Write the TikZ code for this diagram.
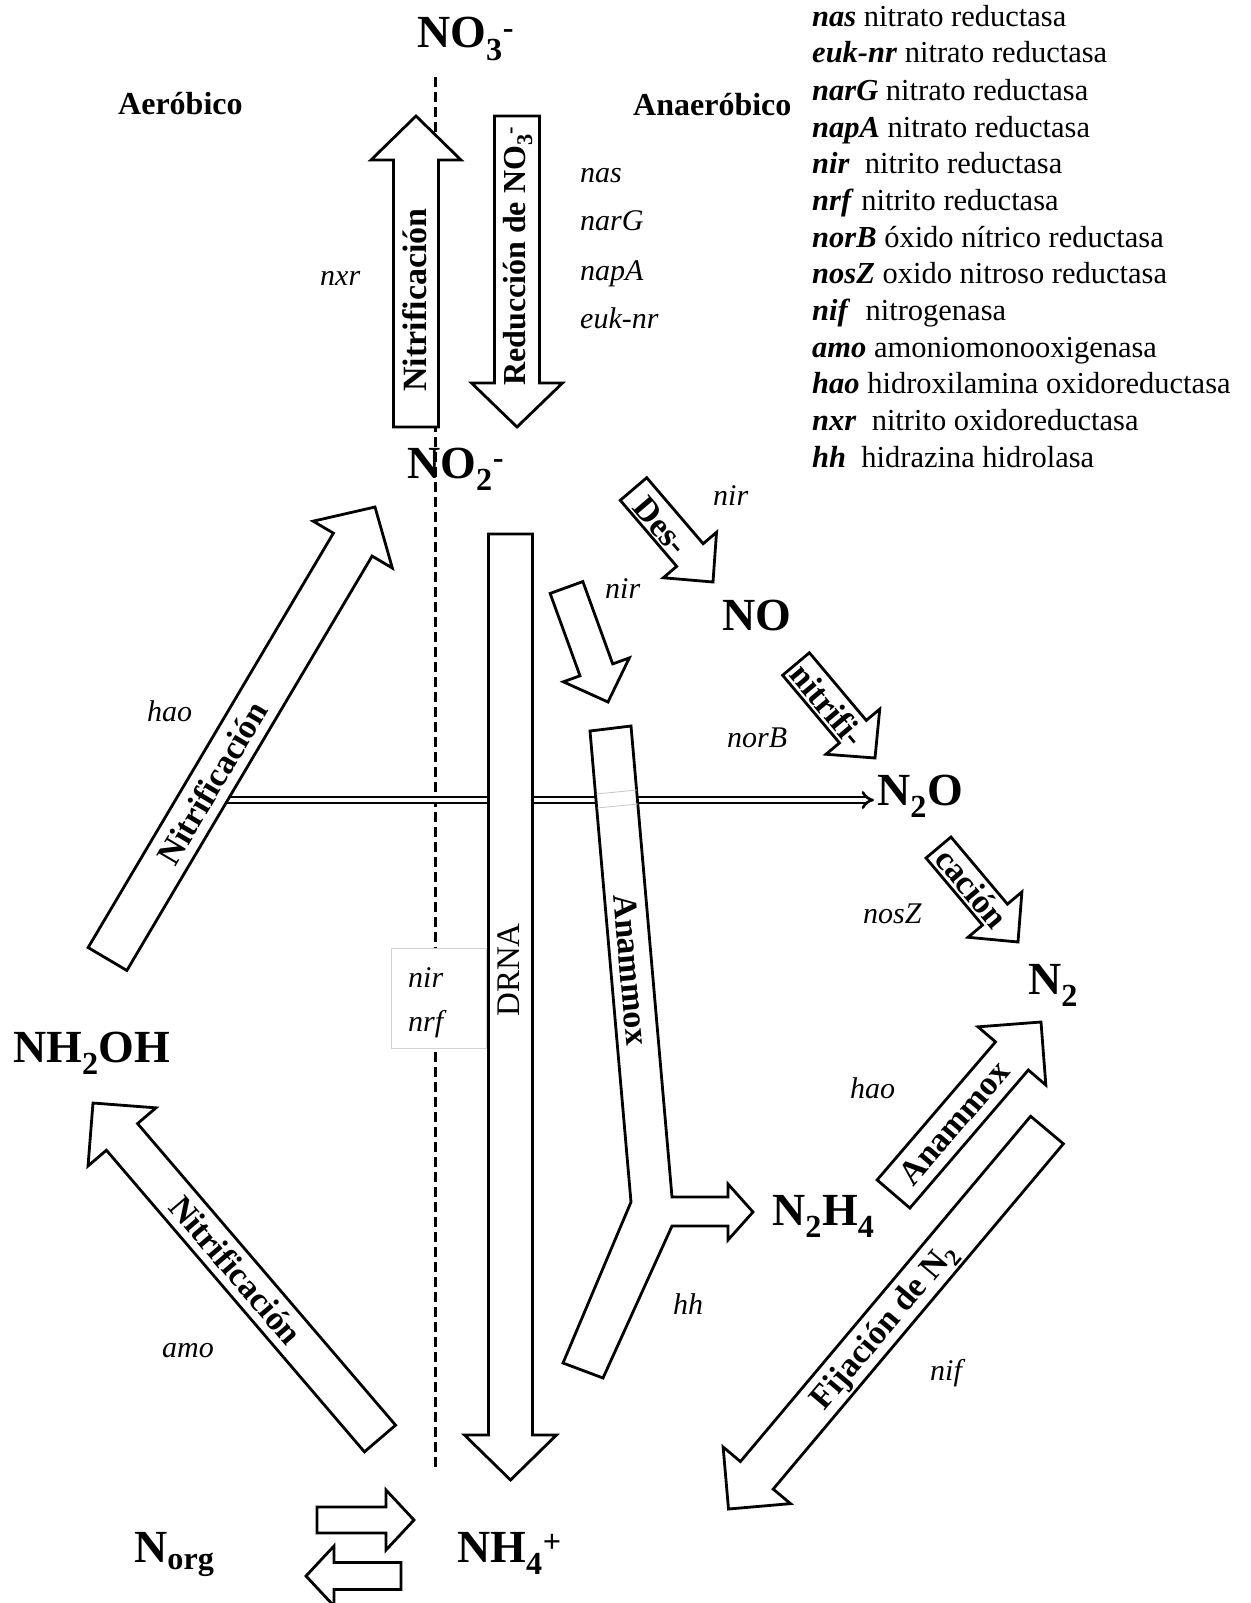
\documentclass[tikz,border=0pt]{standalone}
\usepackage{fontspec}
\setmainfont{Liberation Serif}
\usetikzlibrary{calc,arrows.meta}

\tikzset{
  barrow/.style={draw=black, fill=white, line width=2.8pt, line join=miter},
  chem/.style={font=\bfseries\fontsize{46}{50}\selectfont, inner sep=0pt, anchor=base west},
  atext/.style={font=\bfseries\fontsize{34}{38}\selectfont, inner sep=0pt},
  rtext/.style={font=\fontsize{33}{37}\selectfont, inner sep=0pt},
  gene/.style={font=\itshape\fontsize{30}{34}\selectfont, inner sep=0pt, anchor=base west},
  zone/.style={font=\bfseries\fontsize{32}{36}\selectfont, inner sep=0pt, anchor=base west},
  legend/.style={font=\fontsize{30.5}{36}\selectfont, inner sep=0pt, anchor=base west},
  divider/.style={line width=3pt, dash pattern=on 10pt off 5pt},
  dblarrow/.style={double=white, double distance=3.2pt, line width=2.6pt, -{Implies}},
  genebox/.style={draw=gray!35, fill=white, line width=1pt, inner sep=0pt, anchor=north west},
}

% block arrow: {tail centre}{tip}{half shaft width}{half head width}{head length}
\newcommand\blockarrow[5]{%
  \coordinate (bhC) at ($(#2)!#5pt!(#1)$);
  \draw[barrow] ($(#1)!#3pt!90:(#2)$) -- ($(bhC)!#3pt!90:(#2)$) -- ($(bhC)!#4pt!90:(#2)$) -- (#2)
     -- ($(bhC)!#4pt!-90:(#2)$) -- ($(bhC)!#3pt!-90:(#2)$) -- ($(#1)!#3pt!-90:(#2)$) -- cycle;}

\newcommand\gn[1]{\textbf{\textit{#1}}}

\begin{document}
\begin{tikzpicture}[x=1pt, y=-1pt]
\useasboundingbox (0,0) rectangle (1250,1603);
\fill[white] (0,0) rectangle (1250,1603);

% aerobic / anaerobic divider
\coordinate (dtop) at (435,77);
\coordinate (dbot) at (435,1467);
\draw[divider] (dtop) -- (dbot);

% chemical species
\node[chem] (no3) at (417,48) {NO\textsubscript{3}\textsuperscript{-}};
\node[chem] (no2) at (407,478) {NO\textsubscript{2}\textsuperscript{-}};
\node[chem] (no) at (722,630) {NO};
\node[chem] (n2o) at (877,805) {N\textsubscript{2}O};
\node[chem] (n2) at (1028,994) {N\textsubscript{2}};
\node[chem] (nh2oh) at (13,1062) {NH\textsubscript{2}OH};
\node[chem] (n2h4) at (772,1225) {N\textsubscript{2}H\textsubscript{4}};
\node[chem] (norg) at (134,1562) {N\textsubscript{org}};
\node[chem] (nh4) at (457,1562) {NH\textsubscript{4}\textsuperscript{+}};

% double arrow to N2O
\coordinate (dstart) at (222,800);
\draw[dblarrow] (dstart) -- ($(dstart -| n2o.west)+(-3,0)$);

% block arrows
\blockarrow{416,427}{416,116}{22.5}{45}{44}
\blockarrow{517,116}{517,427}{22.5}{45.5}{44}
\blockarrow{633.5,489}{713,582}{17.4}{35}{35.5}
\blockarrow{566.5,587.5}{608,702}{17.4}{35.1}{34.2}
\blockarrow{796,664}{875,758}{17.5}{35.1}{34.4}
\blockarrow{938.5,847.5}{1018,942}{16.3}{35.2}{35.8}
\blockarrow{510.5,534}{510.5,1480}{22}{46}{45}
\blockarrow{107.5,959}{375,507}{22.5}{46}{43.7}
\blockarrow{380,1438.5}{93,1103}{20.5}{44.7}{44.6}
\blockarrow{893.5,1194}{1041,1022}{21.6}{44.7}{44.7}
\blockarrow{1047,1130}{728.5,1509}{21.4}{44}{44}
\blockarrow{317,1520}{414,1520}{13}{30}{28}
\blockarrow{401,1576}{306,1576}{13.5}{30}{28}

% Anammox Y-shaped arrow
\draw[barrow] (590,731) -- (631,726) -- (672,1197) -- (728,1197) -- (728,1184) -- (753,1212)
  -- (728,1240) -- (728,1226) -- (672,1226) -- (603,1378) -- (563,1363) -- (631,1202) -- cycle;
\draw[gray!45, line width=0.8pt] (596,794) -- (637,790);
\draw[gray!45, line width=0.8pt] (597,808) -- (638,804);

% box with nir / nrf
\node[genebox, minimum width=95pt, minimum height=100pt] (gbox) at (391,948) {};

% arrow texts
\node[atext, rotate=90] (t1) at (415,300) {Nitrificación};
\node[atext, rotate=90, font=\bfseries\fontsize{32}{36}\selectfont] (t2) at (518,256) {Reducción de NO\textsubscript{3}\textsuperscript{-}};
\node[atext, rotate=-49.5] (t3) at (661,526) {Des-};
\node[atext, rotate=-50] (t4) at (828,705) {nitrifi-};
\node[atext, rotate=-50] (t5) at (972,888) {cación};
\node[rtext, rotate=90] (t6) at (509,970) {DRNA};
\node[atext, rotate=-85] (t7) at (631,970) {Anammox};
\node[atext, rotate=59.4] (t8) at (212,783) {Nitrificación};
\node[atext, rotate=-49.5] (t9) at (236,1270) {Nitrificación};
\node[atext, rotate=49.4] (t10) at (954,1123) {Anammox};
\node[atext, rotate=49.9] (t11) at (885,1327) {Fijación de N\textsubscript{2}};

% zones
\node[zone] (aer) at (118,114) {Aeróbico};
\node[zone] (anaer) at (633,115) {Anaeróbico};

% gene labels
\node[gene] (g1) at (580,182) {nas};
\node[gene] (g2) at (580,230) {narG};
\node[gene] (g3) at (580,280) {napA};
\node[gene] (g4) at (580,328) {euk-nr};
\node[gene] (g5) at (320,285) {nxr};
\node[gene] (g6) at (713,505) {nir};
\node[gene] (g7) at (605,598) {nir};
\node[gene] (g8) at (727,747) {norB};
\node[gene] (g9) at (147,721) {hao};
\node[gene] (g10) at (863,923) {nosZ};
\node[gene] (g11) at (408,987) {nir};
\node[gene] (g12) at (408,1031) {nrf};
\node[gene] (g13) at (850,1098) {hao};
\node[gene] (g14) at (673,1314) {hh};
\node[gene] (g15) at (162,1357) {amo};
\node[gene] (g16) at (930,1380) {nif};

% legend
\node[legend] (l1) at (812,27) {\gn{nas} nitrato reductasa};
\node[legend] (l2) at (812,63) {\gn{euk-nr} nitrato reductasa};
\node[legend] (l3) at (812,100) {\gn{narG} nitrato reductasa};
\node[legend] (l4) at (812,137) {\gn{napA} nitrato reductasa};
\node[legend] (l5) at (812,173) {\gn{nir}\ \ nitrito reductasa};
\node[legend] (l6) at (812,210) {\gn{nrf} nitrito reductasa};
\node[legend] (l7) at (812,247) {\gn{norB} óxido nítrico reductasa};
\node[legend] (l8) at (812,283) {\gn{nosZ} oxido nitroso reductasa};
\node[legend] (l9) at (812,320) {\gn{nif}\ \ nitrogenasa};
\node[legend] (l10) at (812,357) {\gn{amo} amoniomonooxigenasa};
\node[legend] (l11) at (812,393) {\gn{hao} hidroxilamina oxidoreductasa};
\node[legend] (l12) at (812,430) {\gn{nxr}\ \ nitrito oxidoreductasa};
\node[legend] (l13) at (812,467) {\gn{hh}\ \ hidrazina hidrolasa};
\end{tikzpicture}
\end{document}
